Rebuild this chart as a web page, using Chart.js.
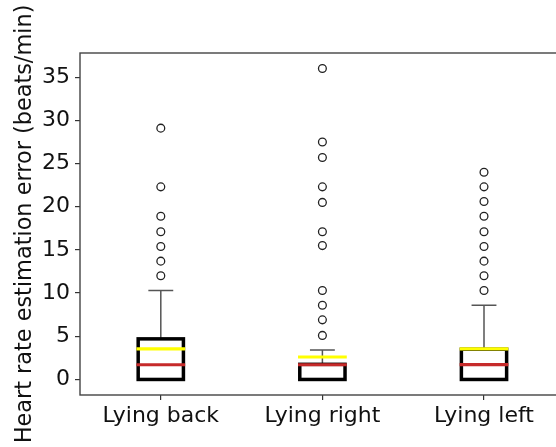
<!DOCTYPE html>
<html>
<head>
<meta charset="utf-8">
<script src="https://cdn.jsdelivr.net/npm/chart.js@4"></script>
<style>
  html, body { margin: 0; padding: 0; background: #fff; overflow: hidden; width: 556px; height: 447px; }
  canvas { display: block; }
</style>
</head>
<body>
<canvas id="c" width="570" height="447"></canvas>
<script>
const categories = ['Lying back', 'Lying right', 'Lying left'];
const q1 = [0, 0, 0];
const medians = [1.7, 1.7, 1.72];
const q3 = [4.7, 1.75, 3.5];
const means = [3.55, 2.6, 3.55];
const whiskerLow = [0, 0, 0];
const whiskerHigh = [10.3, 3.4, 8.6];
const outliers = [
  [29.1, 22.3, 18.9, 17.1, 15.4, 13.7, 12.0],
  [36.0, 27.5, 25.7, 22.3, 20.5, 17.1, 15.5, 10.3, 8.6, 6.9, 5.1],
  [24.0, 22.3, 20.6, 18.9, 17.1, 15.4, 13.7, 12.0, 10.3]
];
const yTicks = [0, 5, 10, 15, 20, 25, 30, 35];
const yLabel = 'Heart rate estimation error (beats/min)';

const flierPoints = [];
outliers.forEach((vals, i) => vals.forEach(v => flierPoints.push({ x: i + 1, y: v })));

const BOX_HALF = 0.14;
const CAP_HALF = 0.077;

const boxPlugin = {
  id: 'boxes',
  afterDatasetsDraw(chart) {
    const { ctx, scales: { x, y } } = chart;
    ctx.save();
    categories.forEach((c, i) => {
      const cx = x.getPixelForValue(i + 1);
      const l = x.getPixelForValue(i + 1 - BOX_HALF);
      const r = x.getPixelForValue(i + 1 + BOX_HALF);
      const cl = x.getPixelForValue(i + 1 - CAP_HALF);
      const cr = x.getPixelForValue(i + 1 + CAP_HALF);
      const yq1 = y.getPixelForValue(q1[i]);
      const yq3 = y.getPixelForValue(q3[i]);
      const ywh = y.getPixelForValue(whiskerHigh[i]);
      const ywl = y.getPixelForValue(whiskerLow[i]);
      // whiskers
      ctx.strokeStyle = '#555555';
      ctx.lineWidth = 1.5;
      ctx.lineCap = 'butt';
      ctx.beginPath();
      ctx.moveTo(cx, yq3); ctx.lineTo(cx, ywh);
      ctx.moveTo(cl, ywh); ctx.lineTo(cr, ywh);
      ctx.moveTo(cx, yq1); ctx.lineTo(cx, ywl);
      ctx.moveTo(cl, ywl); ctx.lineTo(cr, ywl);
      ctx.stroke();
      // box
      ctx.strokeStyle = '#000000';
      ctx.lineWidth = 3.5;
      ctx.lineJoin = 'miter';
      ctx.strokeRect(l, yq3, r - l, yq1 - yq3);
      // median
      const ym = y.getPixelForValue(medians[i]);
      ctx.strokeStyle = '#c62a2a';
      ctx.lineWidth = 3.2;
      ctx.beginPath();
      ctx.moveTo(l - 1.75, ym); ctx.lineTo(r + 1.75, ym);
      ctx.stroke();
      // mean
      const ymean = y.getPixelForValue(means[i]);
      ctx.strokeStyle = '#ffff00';
      ctx.beginPath();
      ctx.moveTo(l - 1.75, ymean); ctx.lineTo(r + 1.75, ymean);
      ctx.stroke();
    });
    ctx.restore();
  },
  afterDraw(chart) {
    const { ctx, chartArea: a } = chart;
    ctx.save();
    ctx.strokeStyle = '#444444';
    ctx.lineWidth = 1.4;
    ctx.strokeRect(a.left, a.top, a.right - a.left, a.bottom - a.top);
    ctx.restore();
  }
};

new Chart(document.getElementById('c'), {
  type: 'scatter',
  data: {
    datasets: [{
      data: flierPoints,
      pointStyle: 'circle',
      pointRadius: 3.9,
      pointBorderWidth: 1.3,
      pointBorderColor: '#222222',
      pointBackgroundColor: 'rgba(255,255,255,0)',
      pointHoverRadius: 3.9
    }]
  },
  options: {
    responsive: false,
    animation: false,
    events: [],
    layout: { padding: { top: 53, right: 5, left: 0, bottom: 0 } },
    plugins: { legend: { display: false }, tooltip: { enabled: false } },
    scales: {
      x: {
        type: 'linear',
        min: 0.5,
        max: 3.5,
        afterBuildTicks(scale) { scale.ticks = categories.map((c, i) => ({ value: i + 1 })); },
        afterFit(scale) { scale.height = 52; },
        ticks: {
          callback: (v) => categories[Math.round(v) - 1] || '',
          font: { family: 'DejaVu Sans', size: 22 },
          color: '#111111',
          padding: 3,
          maxRotation: 0,
          autoSkip: false
        },
        grid: { drawOnChartArea: false, drawTicks: true, tickLength: 5, color: '#333333', lineWidth: 1.2 },
        border: { display: false }
      },
      y: {
        type: 'linear',
        min: -1.8,
        max: 37.8,
        afterBuildTicks(scale) { scale.ticks = yTicks.map(v => ({ value: v })); },
        afterFit(scale) { scale.width = 80; },
        ticks: {
          font: { family: 'DejaVu Sans', size: 22 },
          color: '#111111',
          padding: 5,
          autoSkip: false
        },
        grid: { drawOnChartArea: false, drawTicks: true, tickLength: 5, color: '#333333', lineWidth: 1.2 },
        border: { display: false },
        title: {
          display: true,
          text: yLabel,
          font: { family: 'DejaVu Sans', size: 22.4 },
          color: '#111111',
          padding: { top: 12, bottom: 0 }
        }
      }
    }
  },
  plugins: [boxPlugin]
});
</script>
</body>
</html>
